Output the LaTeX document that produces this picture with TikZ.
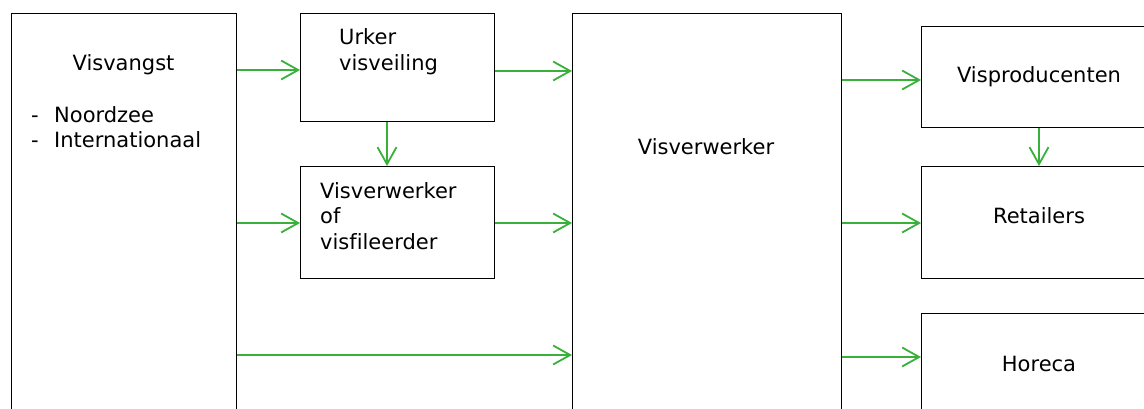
\documentclass[tikz,border=0pt]{standalone}
\usepackage{fontspec}
\setmainfont[Ligatures=NoCommon]{DejaVu Sans}
\usetikzlibrary{arrows.meta}
\definecolor{arrgreen}{RGB}{57,176,57}
\begin{document}
\begin{tikzpicture}[x=1pt,y=-1pt,
  box/.style={draw=black, line width=1pt, inner sep=0pt, anchor=north west},
  txt/.style={inner sep=0pt, font=\fontsize{21}{25}\selectfont},
  arr/.style={draw=arrgreen, line width=1.8pt, -{Straight Barb[length=17pt,width=19pt,line width=1.8pt]}}]
\useasboundingbox (0,0) rectangle (1144,409);
\clip (0,0) rectangle (1144,409);
% boxes
\node[box, minimum width=225pt, minimum height=420pt] (vv) at (11,13) {};
\node[box, minimum width=194pt, minimum height=108pt] (urk) at (300,13) {};
\node[box, minimum width=194pt, minimum height=112pt] (vof) at (300,166) {};
\node[box, minimum width=269pt, minimum height=420pt] (vbig) at (572,13) {};
\node[box, minimum width=236pt, minimum height=101pt] (vp) at (921,26) {};
\node[box, minimum width=236pt, minimum height=112pt] (ret) at (921,166) {};
\node[box, minimum width=236pt, minimum height=120pt] (hor) at (921,313) {};
% texts
\node[txt, anchor=base] (tvv) at (123.5,71) {Visvangst};
\node[txt, anchor=base west] (td1) at (31,123) {-};
\node[txt, anchor=base west] (tn1) at (54,123) {Noordzee};
\node[txt, anchor=base west] (td2) at (31,148) {-};
\node[txt, anchor=base west] (tn2) at (54,148) {Internationaal};
\node[txt, anchor=base west] (tu1) at (339,45) {Urker};
\node[txt, anchor=base west] (tu2) at (339,71) {visveiling};
\node[txt, anchor=base west] (tf1) at (320,198) {Visverwerker};
\node[txt, anchor=base west] (tf2) at (320,223) {of};
\node[txt, anchor=base west] (tf3) at (320,249) {visfileerder};
\node[txt, anchor=base] (tbig) at (706,155) {Visverwerker};
\node[txt, anchor=base] (tvp) at (1039,83) {Visproducenten};
\node[txt, anchor=base] (tret) at (1039,223) {Retailers};
\node[txt, anchor=base] (thor) at (1039,371) {Horeca};
% arrows
\draw[arr] (vv.east |- 0,70) -- (urk.west |- 0,70);
\draw[arr] (vv.east |- 0,223) -- (vof.west |- 0,223);
\draw[arr] (vv.east |- 0,355) -- (vbig.west |- 0,355);
\draw[arr] (urk.east |- 0,71) -- (vbig.west |- 0,71);
\draw[arr] (vof.east |- 0,223) -- (vbig.west |- 0,223);
\draw[arr] ([xshift=-10.5pt]urk.south) -- ([xshift=-10.5pt]vof.north);
\draw[arr] (vbig.east |- 0,80) -- (vp.west |- 0,80);
\draw[arr] (vbig.east |- 0,223) -- (ret.west |- 0,223);
\draw[arr] (vbig.east |- 0,357) -- (hor.west |- 0,357);
\draw[arr] ([xshift=-0.5pt]vp.south) -- ([xshift=-0.5pt]ret.north);
\end{tikzpicture}
\end{document}
